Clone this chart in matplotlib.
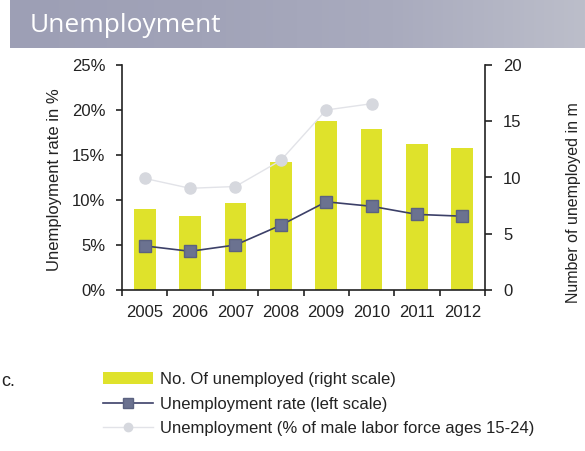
import matplotlib
matplotlib.use("Agg")
import matplotlib.pyplot as plt
import numpy as np
from matplotlib.lines import Line2D
from matplotlib.patches import Patch
from matplotlib.colors import LinearSegmentedColormap

years = ["2005", "2006", "2007", "2008", "2009", "2010", "2011", "2012"]
unemployed_m = [7.2, 6.6, 7.7, 11.4, 15.0, 14.3, 13.0, 12.6]
rate_pct = [4.9, 4.3, 5.0, 7.2, 9.8, 9.3, 8.4, 8.2]
youth_male_pct = [12.4, 11.3, 11.5, 14.4, 20.0, 20.7]
left_ticks = [0, 5, 10, 15, 20, 25]
right_ticks = [0, 5, 10, 15, 20]

plt.rcParams['font.family'] = ['Liberation Sans', 'DejaVu Sans']

W, H = 585, 451
fig = plt.figure(figsize=(W / 100, H / 100), dpi=100)

# Title banner with gradient
bax = fig.add_axes([10 / W, 1 - 48 / H, 1 - 10 / W, 48 / H])
grad = np.linspace(0, 1, 256)[None, :]
cm = LinearSegmentedColormap.from_list("b", ["#9d9fb5", "#a1a3b8", "#a9abbe", "#bcbeca"])
bax.imshow(grad, aspect="auto", cmap=cm, extent=[0, 1, 0, 1])
bax.set_axis_off()
bax.text(20 / (W - 10), 0.47, "Unemployment", color="white", fontsize=19,
         family=["Open Sans", "DejaVu Sans"], va="center", ha="left")

ax = fig.add_axes([122 / W, 1 - 290 / H, 363 / W, 225 / H])
ax2 = ax.twinx()
x = np.arange(len(years))

ax2.bar(x, unemployed_m, width=0.48, color="#dfe22b", zorder=1)
ax2.set_ylim(0, 20)
ax2.set_yticks(right_ticks)

ax.set_zorder(ax2.get_zorder() + 1)
ax.patch.set_visible(False)

ax.plot(x[:len(youth_male_pct)], youth_male_pct, color="#e2e3e8", lw=1.0,
        marker="o", markersize=8, markerfacecolor="#d6d8de", markeredgecolor="#d6d8de")
ax.plot(x, rate_pct, color="#3c4068", lw=1.2, marker="s", markersize=9,
        markerfacecolor="#6b7290", markeredgecolor="#5b6280")

ax.set_xlim(-0.5, len(years) - 0.5)
ax.set_ylim(0, 25)
ax.set_yticks(left_ticks)
ax.set_yticklabels([f"{t}%" for t in left_ticks])
ax.set_xticks(x)
ax.set_xticklabels(years)
ax.set_xticks(np.arange(-0.5, len(years), 1.0), minor=True)
ax.tick_params(axis="x", which="major", length=0, pad=11, labelsize=12, colors="#222222")
ax.tick_params(axis="x", which="minor", length=4, direction="out", width=1.2, color="#222222")
ax.tick_params(axis="y", length=4, width=1.2, direction="out", labelsize=12, pad=8,
               colors="#222222")
ax2.tick_params(axis="y", length=5, width=1.2, direction="out", labelsize=12, pad=8,
                colors="#222222")

for a in (ax, ax2):
    a.spines["top"].set_visible(False)
    for s in ("left", "right", "bottom"):
        a.spines[s].set_color("#222222")
        a.spines[s].set_linewidth(1.2)
ax.spines["right"].set_visible(False)
ax2.spines["left"].set_visible(False)
ax2.spines["bottom"].set_visible(False)

ax.set_ylabel("Unemployment rate in %", fontsize=12, color="#222222")
ax.yaxis.set_label_coords(-0.165, 0.489)
ax2.set_ylabel("Number of unemployed in m", fontsize=11.5, color="#222222", rotation=90)
ax2.yaxis.set_label_coords(1.222, 0.387)

# Legend
handles = [
    Patch(facecolor="#dfe22b", edgecolor="none"),
    Line2D([], [], color="#3c4068", lw=1.2, marker="s", markersize=7,
           markerfacecolor="#6b7290", markeredgecolor="#5b6280"),
    Line2D([], [], color="#e2e3e8", lw=1.0, marker="o", markersize=6,
           markerfacecolor="#d6d8de", markeredgecolor="#d6d8de"),
]
labels = ["No. Of unemployed (right scale)", "Unemployment rate (left scale)",
          "Unemployment (% of male labor force ages 15-24)"]
fig.legend(handles, labels, loc="upper left", bbox_to_anchor=(103 / W, 1 - 372 / H),
           frameon=False, fontsize=12, handlelength=3.0, handleheight=0.72,
           handletextpad=0.42, labelspacing=0.57, borderaxespad=0, borderpad=0,
           labelcolor="#222222")

fig.text(1 / W, 1 - 381 / H, "c.", fontsize=13, color="#222222", va="center", ha="left")

fig.savefig("out.png", dpi=100)
